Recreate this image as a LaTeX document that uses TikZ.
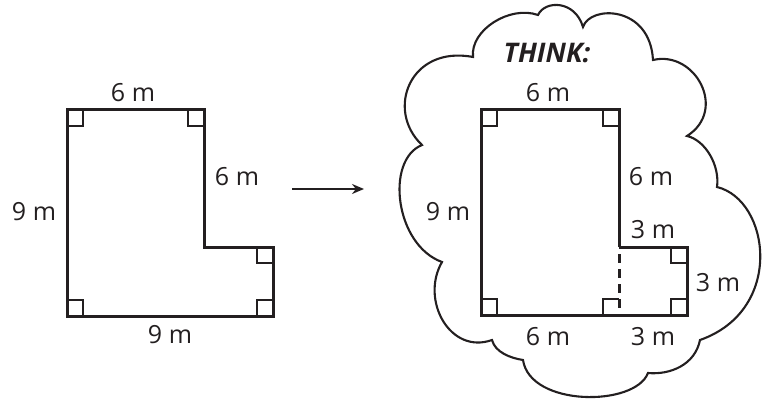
\documentclass[tikz,border=0pt]{standalone}
\usepackage{fontspec}
\setmainfont{Open Sans}
\usetikzlibrary{arrows.meta}
\definecolor{ink}{HTML}{231F20}
\tikzset{
  outline/.style={draw=ink, line width=3pt, line join=miter},
  rmark/.style={draw=ink, line width=1.5pt},
  cloudline/.style={draw=ink, line width=2.1pt, line join=miter},
  lab/.style={text=ink, font=\fontsize{25}{28}\selectfont, inner sep=0pt},
  think/.style={text=ink, font=\fontsize{27}{30}\selectfont\bfseries\itshape, inner sep=0pt},
  arr/.style={draw=ink, line width=2pt, -{Stealth[length=12pt,width=10pt]}}
}
\begin{document}
\begin{tikzpicture}[x=1pt,y=-1pt]
\useasboundingbox (0,0) rectangle (766,401);
% ---------- left figure ----------
\draw[outline] (67,110) -- (204,110) -- (204,247) -- (273,247) -- (273,316) -- (67,316) -- cycle;
\draw[rmark] (67,126) -- (83,126) -- (83,110);
\draw[rmark] (188,110) -- (188,126) -- (204,126);
\draw[rmark] (257,247) -- (257,263) -- (273,263);
\draw[rmark] (257,316) -- (257,300) -- (273,300);
\draw[rmark] (67,300) -- (83,300) -- (83,316);
\node[lab] (lt) at (133,93) {6 m};
\node[lab] (lr) at (237,177) {6 m};
\node[lab] (ll) at (34,212) {9 m};
\node[lab] (lb) at (170,335) {9 m};
% ---------- arrow ----------
\coordinate (a1) at (292,189);
\coordinate (a2) at (364,189);
\draw[arr] (a1) -- (a2);
% ---------- cloud ----------
\draw[cloudline] (473,57)
  .. controls (470,30) and (510,5) .. (538,15)
  .. controls (545,0) and (575,0) .. (583,27)
  .. controls (590,5) and (650,5) .. (653,60)
  .. controls (695,50) and (728,110) .. (687,136)
  .. controls (705,140) and (720,165) .. (717,187)
  .. controls (770,200) and (785,310) .. (700,340)
  .. controls (695,365) and (670,375) .. (648,373)
  .. controls (635,407) and (530,407) .. (523,360)
  .. controls (510,358) and (495,352) .. (492,340)
  .. controls (450,355) and (420,300) .. (442,262)
  .. controls (395,245) and (385,160) .. (422,145)
  .. controls (385,110) and (410,45) .. (473,57) -- cycle;
% ---------- right figure ----------
\draw[outline] (619,247) -- (619,110) -- (481,110) -- (481,315) -- (687,315) -- (687,247) -- (619,247);
\draw[draw=ink, line width=3pt, dash pattern=on 9pt off 6pt] (619,254) -- (619,315);
\draw[rmark] (481,126) -- (497,126) -- (497,110);
\draw[rmark] (603,110) -- (603,126) -- (619,126);
\draw[rmark] (671,247) -- (671,263) -- (687,263);
\draw[rmark] (671,315) -- (671,299) -- (687,299);
\draw[rmark] (603,315) -- (603,299) -- (619,299);
\draw[rmark] (481,299) -- (497,299) -- (497,315);
\node[think] (th) at (547,53) {THINK:};
\node[lab] (rt) at (548,93) {6 m};
\node[lab] (rr) at (651,177) {6 m};
\node[lab] (rl) at (448,212) {9 m};
\node[lab] (rn) at (653,230) {3 m};
\node[lab] (rs) at (718,283) {3 m};
\node[lab] (rb1) at (548,337) {6 m};
\node[lab] (rb2) at (653,337) {3 m};
\end{tikzpicture}
\end{document}
